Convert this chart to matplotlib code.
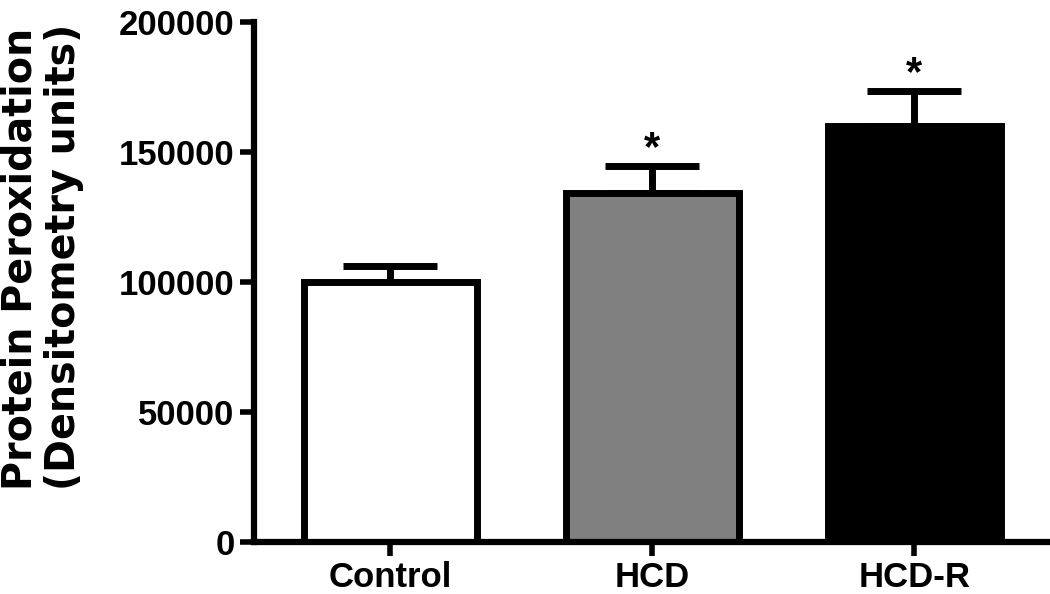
import matplotlib
matplotlib.use('Agg')
import matplotlib.pyplot as plt

# дані з графіка
groups = ['Control', 'HCD', 'HCD-R']
means = [100000, 134000, 160000]
sem = [6200, 10500, 13300]
colors = ['white', '#808080', 'black']
stars = ['', '*', '*']

plt.rcParams['font.family'] = ['Liberation Sans', 'DejaVu Sans']
plt.rcParams['font.weight'] = 'bold'

fig = plt.figure(figsize=(10.5, 5.94), dpi=100)
ax = fig.add_axes([0.242, 0.0875, 0.756, 0.876])

x = range(len(groups))
ax.bar(x, means, width=0.66, color=colors, edgecolor='black', linewidth=5, zorder=2)
ax.errorbar(x, means, yerr=[[0] * len(sem), sem], fmt='none', ecolor='black',
            elinewidth=5, capsize=34, capthick=5, zorder=1)

# зірочки над стовпцями
for i, (m, s, st) in enumerate(zip(means, sem, stars)):
    if st:
        ax.annotate(st, (i, m + s), xytext=(0, 12), textcoords='offset points',
                    ha='center', va='center', fontsize=30, fontweight='bold')

ax.set_xlim(-0.52, 2.51)
ax.set_ylim(0, 200000)
ax.set_yticks([0, 50000, 100000, 150000, 200000])
ax.set_xticks(list(x))
ax.set_xticklabels(groups)

for side in ['top', 'right']:
    ax.spines[side].set_visible(False)
for side in ['left', 'bottom']:
    ax.spines[side].set_linewidth(4.5)

ax.tick_params(axis='both', width=4, length=10, labelsize=25, pad=4)

fig.text(0.04, 0.175, 'Protein Peroxidation\n(Densitometry units)', rotation=90,
         ha='center', va='bottom', multialignment='left', linespacing=1.1,
         fontsize=28.5, fontweight='bold', family='DejaVu Sans')

fig.savefig('out.png', dpi=100)
